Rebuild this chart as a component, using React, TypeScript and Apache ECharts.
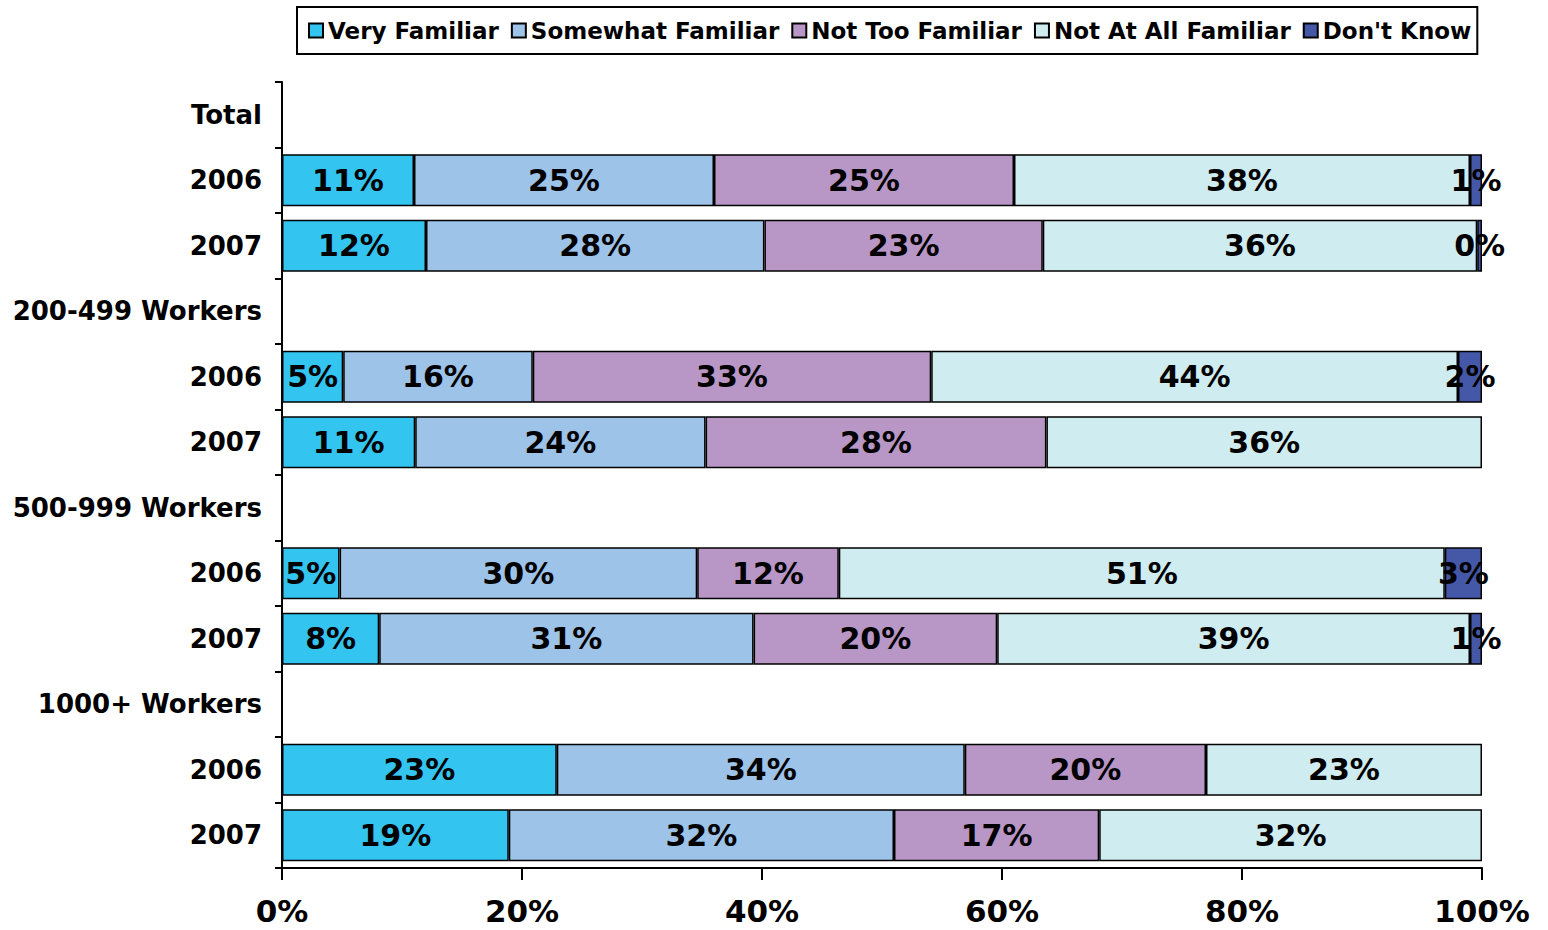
import React, { useEffect, useRef } from "react";
import * as echarts from "echarts";

const categories = [
  "Total", "2006", "2007",
  "200-499 Workers", "2006", "2007",
  "500-999 Workers", "2006", "2007",
  "1000+ Workers", "2006", "2007",
];

const seriesNames = ["Very Familiar", "Somewhat Familiar", "Not Too Familiar", "Not At All Familiar", "Don't Know"];

const veryFamiliar = [null, 11, 12, null, 5.1, 11.1, null, 4.8, 8.1, null, 22.9, 18.9];
const somewhatFamiliar = [null, 25, 28.2, null, 15.8, 24.2, null, 29.8, 31.2, null, 34.0, 32.1];
const notTooFamiliar = [null, 25, 23.2, null, 33.2, 28.4, null, 11.8, 20.3, null, 20.1, 17.1];
const notAtAllFamiliar = [null, 38, 36.2, null, 43.9, 36.3, null, 50.5, 39.4, null, 23.0, 31.9];
const dontKnow = [null, 1, 0.4, null, 2.0, null, null, 3.1, 1.0, null, null, null];

const xTicks = [0, 20, 40, 60, 80, 100];

const colors = ["#33C4F0", "#9DC3E8", "#B896C6", "#CFECF0", "#4558A8"];

const FONT = "'DejaVu Sans', Verdana, sans-serif";

export default function App() {
  const ref = useRef<HTMLDivElement>(null);
  useEffect(() => {
    if (!ref.current) return;
    const chart = echarts.init(ref.current, null, { renderer: "svg" });
    const allData = [veryFamiliar, somewhatFamiliar, notTooFamiliar, notAtAllFamiliar, dontKnow];
    chart.setOption({
      animation: false,
      color: colors,
      textStyle: { fontFamily: FONT },
      legend: {
        left: 297,
        top: 7,
        data: seriesNames,
        icon: "rect",
        itemWidth: 14,
        itemHeight: 14,
        itemGap: 12,
        padding: [12, 6, 12, 11],
        borderColor: "#000",
        borderWidth: 2,
        textStyle: { fontFamily: FONT, fontWeight: "bold", fontSize: 23, color: "#000" },
      },
      grid: { left: 282, right: 66, top: 82, bottom: 62, containLabel: false },
      xAxis: {
        type: "value",
        min: xTicks[0],
        max: xTicks[xTicks.length - 1],
        interval: 20,
        axisLine: { show: true, lineStyle: { color: "#000", width: 2 } },
        axisTick: { show: true, length: 12, lineStyle: { color: "#000", width: 2 } },
        splitLine: { show: false },
        axisLabel: {
          formatter: "{value}%",
          fontFamily: FONT,
          fontWeight: "bold",
          fontSize: 31,
          color: "#000",
          margin: 27,
          lineHeight: 32,
        },
      },
      yAxis: {
        type: "category",
        inverse: true,
        data: categories,
        axisLine: { show: true, lineStyle: { color: "#000", width: 2 } },
        axisTick: { show: true, length: 7, lineStyle: { color: "#000", width: 2 } },
        axisLabel: {
          fontFamily: FONT,
          fontWeight: "bold",
          fontSize: 26,
          color: "#000",
          margin: 20,
        },
      },
      series: seriesNames.map((name, i) => ({
        name,
        type: "bar",
        stack: "total",
        barWidth: 52,
        data: allData[i].map((v) => (v === null ? "-" : v)),
        itemStyle: { color: colors[i], borderColor: "#000", borderWidth: 1.5 },
        label: {
          show: true,
          position: "inside",
          formatter: (p: any) => Math.round(p.value) + "%",
          fontFamily: FONT,
          fontWeight: "bold",
          fontSize: 30,
          color: "#000",
        },
        emphasis: { disabled: true },
      })),
    });
    return () => chart.dispose();
  }, []);
  return (
    <div
      ref={ref}
      style={{ position: "absolute", left: 0, top: 0, width: 1548, height: 930 }}
    />
  );
}
